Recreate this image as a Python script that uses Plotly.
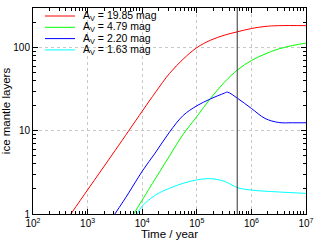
import plotly.graph_objects as go

# ---------------- data ----------------
time_red = [493, 1000, 3162, 10000, 17783, 31623, 56234, 100000, 177828, 316228, 562341, 1000000, 1778279, 3162278, 10000000]
layers_red = [1.0, 1.95, 5.75, 17.2, 29.5, 49, 72.8, 100, 123, 141, 155.6, 170, 180, 184, 184]

time_green = [6980, 10000, 17783, 31623, 56234, 100000, 177828, 316228, 562341, 1000000, 1778279, 3162278, 5623413, 10000000]
layers_green = [1.0, 1.47, 2.72, 5.0, 9.1, 14.8, 24.5, 38, 54.3, 70, 84, 96.6, 106, 113.5]

time_blue = [3162, 5623, 10000, 17783, 31623, 56234, 100000, 177828, 316228, 363078, 562341, 1000000, 1778279, 3162278, 5623413, 10000000]
layers_blue = [1.0, 1.78, 3.27, 5.56, 9.66, 15.3, 20.0, 24.2, 28.3, 29.2, 24.5, 18.6, 14.1, 12.6, 12.5, 12.5]

time_cyan = [8050, 10000, 17783, 31623, 56234, 100000, 177828, 316228, 562341, 1000000, 1778279, 3162278, 10000000]
layers_cyan = [1.0, 1.245, 1.70, 2.04, 2.34, 2.57, 2.66, 2.48, 2.07, 1.94, 1.88, 1.84, 1.77]

av_values = [19.85, 4.79, 2.20, 1.63]
series_colors = ["#ff0000", "#00ff00", "#0000ff", "#00ffff"]

marker_time = 5.5e5

x_tickvals = [1e2, 1e3, 1e4, 1e5, 1e6, 1e7]
x_ticktext = ["10<sup>2</sup>", "10<sup>3</sup>", "10<sup>4</sup>", "10<sup>5</sup>", "10<sup>6</sup>", "10<sup>7</sup>"]
y_tickvals = [1, 10, 100]
y_ticktext = ["1", "10", "100"]

x_minor = [m * 10 ** e for e in range(2, 7) for m in range(2, 10)]
y_minor = [m * 10 ** e for e in range(0, 3) for m in range(2, 10) if m * 10 ** e <= 300]

# ---------------- figure ----------------
FONT = "Liberation Sans, Arial, sans-serif"
W, H = 320, 240
ML, MR, MT, MB = 33, 14, 8, 26
PW, PH = W - ML - MR, H - MT - MB

fig = go.Figure()
series = [(time_red, layers_red), (time_green, layers_green), (time_blue, layers_blue), (time_cyan, layers_cyan)]
for (t, v), c in zip(series, series_colors):
    fig.add_trace(go.Scatter(x=t, y=v, mode="lines", showlegend=False,
                             line=dict(color=c, width=1, shape="spline", smoothing=1.0)))

fig.add_trace(go.Scatter(x=[marker_time, marker_time], y=[1, 300], mode="lines", showlegend=False,
                         line=dict(color="#333333", width=1)))

axis_common = dict(
    type="log", ticks="inside", ticklen=5, tickwidth=1, tickcolor="#000000",
    showline=True, linecolor="#000000", linewidth=1, mirror="allticks",
    showgrid=True, gridcolor="#c8c8c8", griddash="dot", gridwidth=1,
    zeroline=False, automargin=False, tickfont=dict(family=FONT, size=10, color="#000000"),
)

fig.update_layout(
    width=W, height=H,
    margin=dict(l=ML, r=MR, t=MT, b=MB, autoexpand=False),
    paper_bgcolor="white", plot_bgcolor="white",
    font=dict(family=FONT, size=11, color="#000000"),
    xaxis=dict(axis_common, range=[2, 7], tickmode="array", tickvals=x_tickvals, ticktext=x_ticktext,
               minor=dict(tickmode="array", tickvals=x_minor, ticks="inside", ticklen=3, tickcolor="#000000", showgrid=False),
               title=dict(text="Time / year", font=dict(family=FONT, size=11.5), standoff=0)),
    yaxis=dict(axis_common, range=[0, 2.4771], tickmode="array", tickvals=y_tickvals, ticktext=y_ticktext,
               minor=dict(tickmode="array", tickvals=y_minor, ticks="inside", ticklen=3, tickcolor="#000000", showgrid=False),
               title=dict(text="ice mantle layers", font=dict(family=FONT, size=11.5), standoff=1)),
)

# manual legend (compact, gnuplot-like)
for i, (av, c) in enumerate(zip(av_values, series_colors)):
    py = 16 + 11.3 * i
    yp = (MT + PH - py) / PH
    x0 = (45 - ML) / PW
    x1 = (75 - ML) / PW
    fig.add_shape(type="line", xref="paper", yref="paper", x0=x0, x1=x1, y0=yp, y1=yp,
                  line=dict(color=c, width=1))
    fig.add_annotation(xref="paper", yref="paper", x=(81 - ML) / PW, y=yp, xanchor="left", yanchor="middle",
                       showarrow=False, text=f"A<sub>V</sub> = {av:.2f} mag",
                       font=dict(family=FONT, size=10.5, color="#000000"))

fig.write_html("out.html", config={"displayModeBar": False, "staticPlot": True})

# remove the browser's default page margin so the 320x240 figure fills the window
with open("out.html", "r", encoding="utf-8") as f:
    html = f.read()
html = html.replace("<head>", "<head><style>html,body{margin:0;padding:0;overflow:hidden;}</style>", 1)
with open("out.html", "w", encoding="utf-8") as f:
    f.write(html)
